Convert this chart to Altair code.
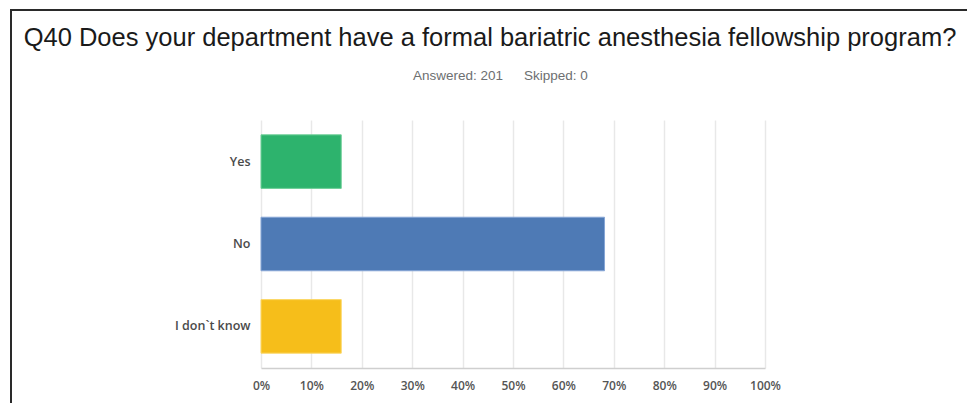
import altair as alt
import pandas as pd

answers = ["Yes", "No", "I don`t know"]
percents = [15.92, 68.16, 15.92]
bar_colors = ["#2db36d", "#4e7ab5", "#f6be1a"]
bar_strokes = ["#6fcf98", "#86a6d6", "#fbd766"]
x_ticks = [0, 10, 20, 30, 40, 50, 60, 70, 80, 90, 100]

title_text = "Q40 Does your department have a formal bariatric anesthesia fellowship program?"
answered_text = "Answered: 201"
skipped_text = "Skipped: 0"

PAD_L, PAD_T, W, H = 261, 120, 504, 248
TOTAL_W, TOTAL_H = 967, 403

df = pd.DataFrame({"answer": answers, "pct": percents})

bars = alt.Chart(df).mark_bar(strokeWidth=1).encode(
    y=alt.Y(
        "answer:N",
        sort=answers,
        title=None,
        scale=alt.Scale(paddingInner=0.35, paddingOuter=0.18),
        axis=alt.Axis(
            domain=False, ticks=False, grid=False, labelPadding=11,
            labelFontSize=12.5, labelColor="#4a4a4a", labelFont="Open Sans",
            labelFontWeight=600,
        ),
    ),
    x=alt.X(
        "pct:Q",
        title=None,
        scale=alt.Scale(domain=[0, 100], nice=False),
        axis=alt.Axis(
            values=x_ticks, labelExpr="datum.value + '%'", ticks=False,
            labelPadding=12, labelFontSize=12, labelColor="#555555",
            labelFont="Open Sans", labelFontWeight=600, labelFlush=False,
            domainColor="#cfcfcf", domainWidth=1.5, gridColor="#e8e8e8",
            gridWidth=1.5,
        ),
    ),
    color=alt.Color("answer:N", scale=alt.Scale(domain=answers, range=bar_colors), legend=None),
    stroke=alt.Stroke("answer:N", scale=alt.Scale(domain=answers, range=bar_strokes), legend=None),
)

one = pd.DataFrame({"t": [title_text], "a": [answered_text], "s": [skipped_text]})

title = alt.Chart(one).mark_text(
    font="Liberation Sans", fontSize=25.5, color="#1a1a1a", align="center", baseline="alphabetic"
).encode(text="t:N", x=alt.value(490 - PAD_L), y=alt.value(46 - PAD_T))

answered = alt.Chart(one).mark_text(
    font="Liberation Sans", fontSize=13.5, color="#6d6f71", align="right", baseline="alphabetic"
).encode(text="a:N", x=alt.value(503 - PAD_L), y=alt.value(80 - PAD_T))

skipped = alt.Chart(one).mark_text(
    font="Liberation Sans", fontSize=13.5, color="#6d6f71", align="left", baseline="alphabetic"
).encode(text="s:N", x=alt.value(524 - PAD_L), y=alt.value(80 - PAD_T))

top_line = alt.Chart(one).mark_rule(color="#2a2a2a", strokeWidth=2).encode(
    x=alt.value(10 - PAD_L), x2=alt.value(TOTAL_W - PAD_L), y=alt.value(10 - PAD_T)
)
left_line = alt.Chart(one).mark_rule(color="#2a2a2a", strokeWidth=2).encode(
    x=alt.value(11 - PAD_L), y=alt.value(10 - PAD_T), y2=alt.value(TOTAL_H - PAD_T)
)

chart = alt.layer(bars, title, answered, skipped, top_line, left_line).properties(
    width=W, height=H,
    autosize=alt.AutoSizeParams(type="none"),
    padding={"left": PAD_L, "top": PAD_T, "right": TOTAL_W - PAD_L - W, "bottom": TOTAL_H - PAD_T - H},
    background="white",
).configure_view(stroke=None)

chart.save("out.html", embed_options={"renderer": "svg", "actions": False})
